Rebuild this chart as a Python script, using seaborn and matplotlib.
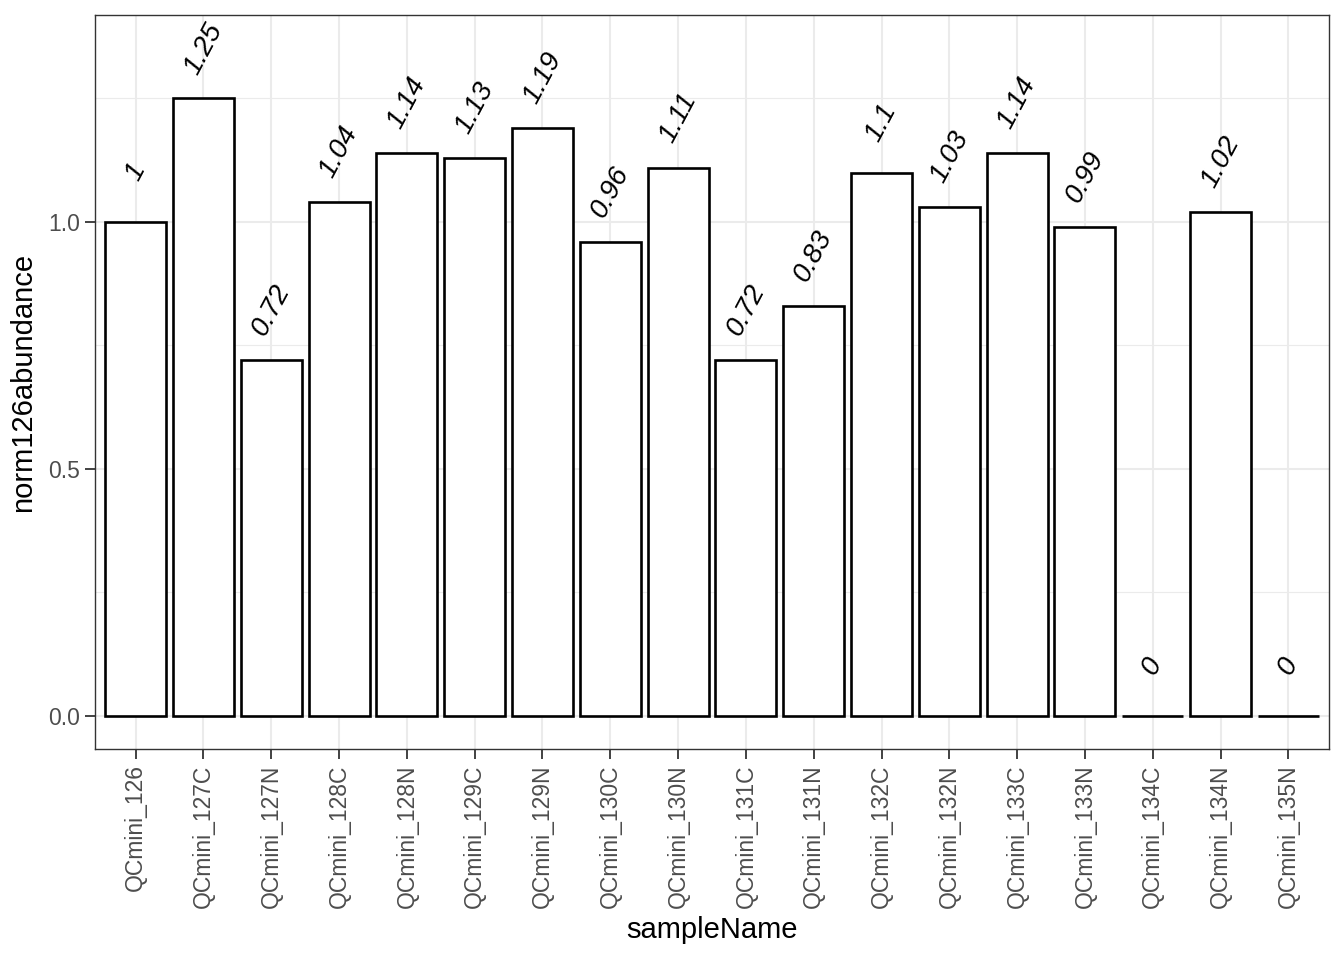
import pandas as pd
import numpy as np
import seaborn as sns
import matplotlib.pyplot as plt
from matplotlib.ticker import MultipleLocator

# data
sample_names = ['QCmini_126', 'QCmini_127C', 'QCmini_127N', 'QCmini_128C', 'QCmini_128N',
                'QCmini_129C', 'QCmini_129N', 'QCmini_130C', 'QCmini_130N', 'QCmini_131C',
                'QCmini_131N', 'QCmini_132C', 'QCmini_132N', 'QCmini_133C', 'QCmini_133N',
                'QCmini_134C', 'QCmini_134N', 'QCmini_135N']
abundance = [1.0, 1.25, 0.72, 1.04, 1.14, 1.13, 1.19, 0.96, 1.11, 0.72,
             0.83, 1.1, 1.03, 1.14, 0.99, 0.0, 1.02, 0.0]

df = pd.DataFrame({'sampleName': sample_names, 'norm126abundance': abundance})

sns.set_theme(style='white')
plt.rcParams['font.family'] = ['Liberation Sans', 'DejaVu Sans']

fig = plt.figure(figsize=(13.44, 9.6), dpi=100)
ax = fig.add_axes([95 / 1344, 1 - 749 / 960, (1329 - 95) / 1344, (749 - 15) / 960])

sns.barplot(data=df, x='sampleName', y='norm126abundance', color='white',
            edgecolor='black', linewidth=1.9, width=0.9, saturation=1, ax=ax, zorder=3)

# value labels above bars
for i, v in enumerate(df['norm126abundance']):
    ax.text(i, v + 0.101, f"{round(v, 2):g}", rotation=62, ha='center', va='center',
            fontsize=20, fontstyle='italic', color='black', zorder=4)

ax.set_xlim(-0.6, len(sample_names) - 0.4)
ax.set_ylim(-0.0668, 1.419)
ax.yaxis.set_minor_locator(MultipleLocator(0.25))
ax.set_yticks([0, 0.5, 1.0])
ax.set_yticklabels(['0.0', '0.5', '1.0'])

# theme_bw-like styling
ax.set_facecolor('white')
ax.grid(True, which='major', color='#EBEBEB', linewidth=1.5, zorder=0)
ax.grid(True, which='minor', axis='y', color='#EBEBEB', linewidth=0.8, zorder=0)
ax.set_axisbelow(True)
for s in ax.spines.values():
    s.set_color('#333333')
    s.set_linewidth(1.0)
ax.tick_params(axis='both', which='major', length=7, width=1.3, color='#333333',
               labelcolor='#4D4D4D', labelsize=16.5, direction='out', pad=4,
               bottom=True, left=True)
ax.tick_params(axis='y', which='minor', length=0)
plt.setp(ax.get_xticklabels(), rotation=90, ha='center', va='top')

ax.set_xlabel('sampleName', fontsize=21, color='black', labelpad=6)
ax.set_ylabel('norm126abundance', fontsize=21, color='black', labelpad=8)

fig.savefig('out.png', dpi=100)
